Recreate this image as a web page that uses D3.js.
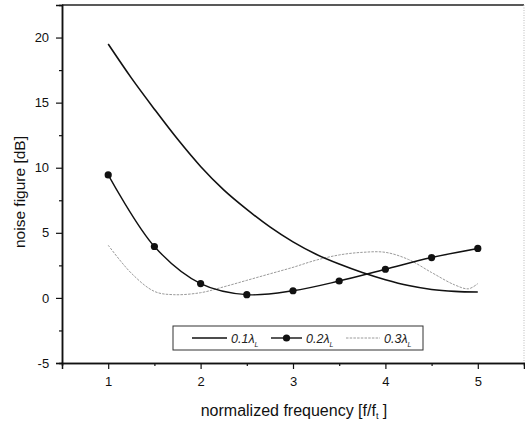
<!DOCTYPE html>
<html>
<head>
<meta charset="utf-8">
<script src="https://cdnjs.cloudflare.com/ajax/libs/d3/7.8.5/d3.min.js"></script>
<style>
  html, body { margin: 0; padding: 0; background: #fff; }
  svg { display: block; font-family: "Liberation Sans", Arial, sans-serif; }
</style>
</head>
<body>
<svg id="chart" width="525" height="422"></svg>
<script>
// ---- data ----
const xTicks = [1, 2, 3, 4, 5];
const yTicks = [-5, 0, 5, 10, 15, 20];
const seriesNames = ["0.1", "0.2", "0.3"];

const s1x = [1.0, 1.25, 1.5, 1.75, 2.0, 2.25, 2.5, 2.75, 3.0, 3.25, 3.5, 3.75, 4.0, 4.25, 4.5, 4.75, 5.0];
const s1y = [19.5, 16.9, 14.5, 12.2, 10.1, 8.3, 6.8, 5.45, 4.3, 3.35, 2.6, 1.95, 1.4, 0.95, 0.65, 0.5, 0.45];

const s2x = [1.0, 1.5, 2.0, 2.5, 3.0, 3.5, 4.0, 4.5, 5.0];
const s2y = [9.45, 3.95, 1.1, 0.25, 0.55, 1.3, 2.2, 3.1, 3.8];

const s3x = [1.0, 1.25, 1.5, 1.7, 2.0, 2.25, 2.5, 2.75, 3.0, 3.25, 3.5, 3.75, 4.0, 4.25, 4.5, 4.75, 4.9, 5.0];
const s3y = [4.05, 1.9, 0.5, 0.25, 0.4, 0.85, 1.35, 1.85, 2.35, 2.9, 3.3, 3.5, 3.5, 2.95, 1.95, 1.0, 0.7, 1.1];

// ---- layout ----
const svg = d3.select("#chart");
const L = 62, R = 524, T = 5, B = 363;
const x = d3.scaleLinear().domain([0.5, 5.5]).range([L, R]);
const y = d3.scaleLinear().domain([-5, 22.5]).range([B, T]);

// frame
svg.append("line").attr("x1", L).attr("x2", R).attr("y1", T).attr("y2", T)
  .attr("stroke", "#222").attr("stroke-width", 1.5);
svg.append("line").attr("x1", R).attr("x2", R).attr("y1", T).attr("y2", B)
  .attr("stroke", "#bbb").attr("stroke-width", 1).attr("stroke-dasharray", "1,1.5");

// axes
const fmt = d => String(d);
const xAxis = d3.axisBottom(x).tickValues(xTicks).tickSize(6).tickFormat(fmt);
const xMinor = d3.axisBottom(x).tickValues([1.5, 2.5, 3.5, 4.5]).tickSize(3).tickFormat("");
const yAxis = d3.axisLeft(y).tickValues(yTicks).tickSize(6).tickFormat(fmt);
const yMinor = d3.axisLeft(y).tickValues([-2.5, 2.5, 7.5, 12.5, 17.5]).tickSize(3).tickFormat("");

function styleAxis(g) {
  g.select(".domain").attr("stroke", "#111").attr("stroke-width", 1.5);
  g.selectAll(".tick line").attr("stroke", "#111").attr("stroke-width", 1.2);
  g.selectAll("text").attr("font-size", 13).attr("fill", "#111")
    .attr("font-family", "'Liberation Sans', Arial, sans-serif");
}
svg.append("g").attr("transform", `translate(0,${B})`).call(xMinor).call(styleAxis);
svg.append("g").attr("transform", `translate(0,${B})`).call(xAxis).call(styleAxis)
  .selectAll("text").attr("dy", "1.05em");
svg.append("g").attr("transform", `translate(${L},0)`).call(yMinor).call(styleAxis);
svg.append("g").attr("transform", `translate(${L},0)`).call(yAxis).call(styleAxis)
  .selectAll("text").attr("dx", "-0.3em");

// axis titles
const xt = svg.append("text").attr("x", 294).attr("y", 416).attr("text-anchor", "middle")
  .attr("font-size", 16).attr("fill", "#111");
xt.append("tspan").text("normalized frequency [f/f");
xt.append("tspan").attr("font-size", 9).attr("dy", 3).text("t");
xt.append("tspan").attr("dy", -3).text(" ]");

svg.append("text").attr("transform", "translate(25,192) rotate(-90)")
  .attr("text-anchor", "middle").attr("font-size", 15.5).attr("fill", "#111")
  .text("noise figure [dB]");

// lines
const line = d3.line().x(d => x(d[0])).y(d => y(d[1])).curve(d3.curveCatmullRom.alpha(0.5));
const d1 = s1x.map((v, i) => [v, s1y[i]]);
const d2 = s2x.map((v, i) => [v, s2y[i]]);
const d3d = s3x.map((v, i) => [v, s3y[i]]);

svg.append("path").datum(d3d).attr("d", line).attr("fill", "none")
  .attr("stroke", "#9a9a9a").attr("stroke-width", 1).attr("stroke-dasharray", "2.5,1.2");
svg.append("path").datum(d1).attr("d", line).attr("fill", "none")
  .attr("stroke", "#111").attr("stroke-width", 1.6);
svg.append("path").datum(d2).attr("d", line).attr("fill", "none")
  .attr("stroke", "#111").attr("stroke-width", 1.4);
svg.selectAll("circle.m").data(d2).enter().append("circle").attr("class", "m")
  .attr("cx", d => x(d[0])).attr("cy", d => y(d[1])).attr("r", 3.6).attr("fill", "#111");

// legend
const lg = svg.append("g");
lg.append("rect").attr("x", 173).attr("y", 326).attr("width", 250).attr("height", 24)
  .attr("fill", "#fff").attr("stroke", "#333").attr("stroke-width", 1);
const ly = 338;
const entries = [
  { x0: 192, x1: 227, tx: 231, stroke: "#111", w: 1.6, dash: null, marker: false },
  { x0: 271, x1: 302, tx: 306, stroke: "#111", w: 1.4, dash: null, marker: true },
  { x0: 346, x1: 380, tx: 384, stroke: "#9a9a9a", w: 1, dash: "2.5,1.2", marker: false }
];
entries.forEach((e, i) => {
  lg.append("line").attr("x1", e.x0).attr("x2", e.x1).attr("y1", ly).attr("y2", ly)
    .attr("stroke", e.stroke).attr("stroke-width", e.w).attr("stroke-dasharray", e.dash);
  if (e.marker) lg.append("circle").attr("cx", (e.x0 + e.x1) / 2).attr("cy", ly).attr("r", 3.6).attr("fill", "#111");
  const t = lg.append("text").attr("x", e.tx).attr("y", ly + 4.5).attr("font-size", 12.5)
    .attr("font-style", "italic").attr("fill", "#222");
  t.append("tspan").text(seriesNames[i] + "λ");
  t.append("tspan").attr("font-size", 7).attr("dy", 4).text("L");
});
</script>
</body>
</html>
